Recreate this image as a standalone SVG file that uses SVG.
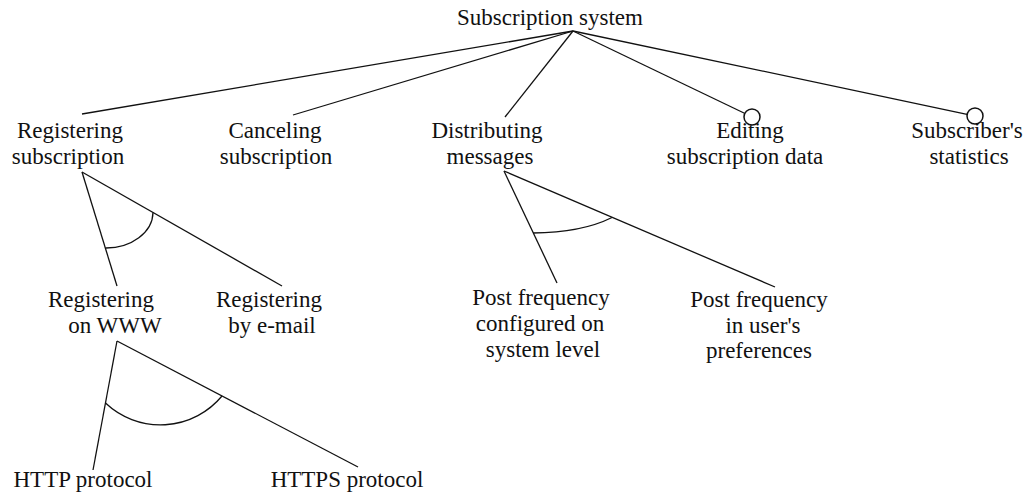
<svg xmlns="http://www.w3.org/2000/svg" width="1026" height="498" viewBox="0 0 1026 498">
  <style>
    text { font-family: "Liberation Serif", "Times New Roman", serif; font-size: 23px; fill: #111; text-anchor: middle; }
    .edge { stroke: #111; stroke-width: 1.3; fill: none; }
    .opt { stroke: #111; stroke-width: 1.5; fill: #fff; }
  </style>
  <rect width="1026" height="498" fill="#fff"/>

  <!-- connectors -->
  <g id="connectors">
    <!-- root to first-level features -->
    <line class="edge" x1="573" y1="31" x2="82" y2="114"/>
    <line class="edge" x1="573" y1="31" x2="293" y2="115"/>
    <line class="edge" x1="573" y1="31" x2="505" y2="117"/>
    <line class="edge" x1="573" y1="31" x2="745" y2="113.5"/>
    <line class="edge" x1="573" y1="31" x2="967" y2="114.3"/>
    <!-- optional markers -->
    <circle class="opt" cx="752" cy="117" r="8"/>
    <circle class="opt" cx="975" cy="116" r="8"/>

    <!-- Registering subscription alternatives -->
    <line class="edge" x1="82" y1="172" x2="117" y2="286"/>
    <line class="edge" x1="82" y1="172" x2="282" y2="286"/>
    <path class="edge" d="M105.5 248 A47 36 0 0 0 153 212.5"/>

    <!-- Distributing messages alternatives -->
    <line class="edge" x1="504" y1="171" x2="557" y2="283"/>
    <line class="edge" x1="504" y1="171" x2="775" y2="287"/>
    <path class="edge" d="M533 233 A104 42 0 0 0 612 217.5"/>

    <!-- Registering on WWW alternatives -->
    <line class="edge" x1="117" y1="341" x2="93" y2="470"/>
    <line class="edge" x1="117" y1="341" x2="358" y2="467"/>
    <path class="edge" d="M105.5 403 A80 80 0 0 0 222 396"/>
  </g>

  <g id="root">
    <text x="550" y="25">Subscription system</text>
  </g>
  <g id="registering-subscription">
    <text x="70" y="138">Registering</text>
    <text x="68" y="164">subscription</text>
  </g>
  <g id="canceling-subscription">
    <text x="275" y="138">Canceling</text>
    <text x="276" y="164">subscription</text>
  </g>
  <g id="distributing-messages">
    <text x="487" y="138">Distributing</text>
    <text x="490" y="164">messages</text>
  </g>
  <g id="editing-subscription-data">
    <text x="750" y="138">Editing</text>
    <text x="745" y="164">subscription data</text>
  </g>
  <g id="subscribers-statistics">
    <text x="967" y="138">Subscriber's</text>
    <text x="969" y="164">statistics</text>
  </g>
  <g id="registering-on-www">
    <text x="101" y="307">Registering</text>
    <text x="115" y="333">on WWW</text>
  </g>
  <g id="registering-by-email">
    <text x="269" y="307">Registering</text>
    <text x="272" y="333">by e-mail</text>
  </g>
  <g id="post-frequency-system">
    <text x="541" y="305">Post frequency</text>
    <text x="540" y="331">configured on</text>
    <text x="543" y="357">system level</text>
  </g>
  <g id="post-frequency-user">
    <text x="759" y="307">Post frequency</text>
    <text x="763" y="333">in user's</text>
    <text x="759" y="358">preferences</text>
  </g>
  <g id="http-protocol">
    <text x="83" y="487">HTTP protocol</text>
  </g>
  <g id="https-protocol">
    <text x="347" y="487">HTTPS protocol</text>
  </g>
</svg>
